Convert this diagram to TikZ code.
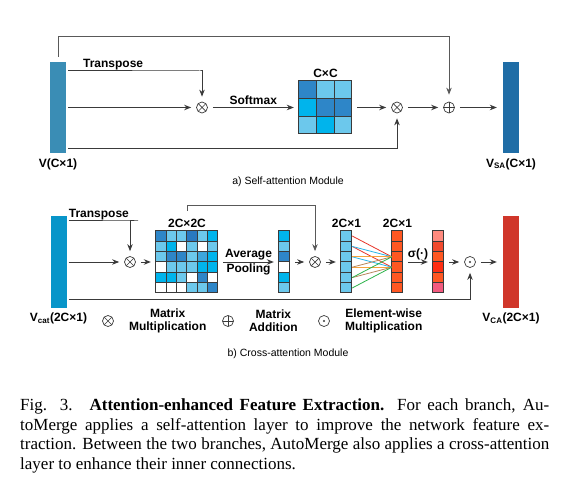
\documentclass[tikz,border=0pt]{standalone}
\usepackage{fontspec}
\setmainfont{Liberation Serif}
\newfontfamily\figfont{Liberation Sans}
\usetikzlibrary{positioning,calc,arrows.meta}

\definecolor{cdark}{HTML}{2E86C8}
\definecolor{cdeep}{HTML}{2878C0}
\definecolor{clight}{HTML}{6CC8EC}
\definecolor{ccyan}{HTML}{00B4EC}
\definecolor{cmid}{HTML}{3DA6DC}
\definecolor{corange}{HTML}{FF5722}
\definecolor{csalmon}{HTML}{FF8A7E}
\definecolor{cred}{HTML}{F24A2E}
\definecolor{cscarlet}{HTML}{FF2E12}
\definecolor{cpink}{HTML}{F25A7E}
\definecolor{barv}{HTML}{3A8DB5}
\definecolor{barsa}{HTML}{1F6DA6}
\definecolor{barcat}{HTML}{0895C9}
\definecolor{barca}{HTML}{D0362A}
\definecolor{fanred}{HTML}{E8352A}
\definecolor{fanblue}{HTML}{29B5E8}
\definecolor{fanorange}{HTML}{F5A33C}
\definecolor{fanbrown}{HTML}{B8865A}
\definecolor{fangreen}{HTML}{2DB34A}
\definecolor{linegray}{HTML}{3A3A3A}

\begin{document}
\begin{tikzpicture}
   [x=1pt,y=-1pt,
    bar/.style={rectangle, minimum width=16pt, minimum height=91pt, inner sep=0pt},
    op/.style={circle, draw=linegray, line width=0.7pt, minimum size=11pt, inner sep=0pt},
    mult/.style={op, path picture={\draw[linegray,line width=0.7pt]
        (path picture bounding box.north west) -- (path picture bounding box.south east)
        (path picture bounding box.north east) -- (path picture bounding box.south west);}},
    add/.style={op, path picture={\draw[linegray,line width=0.7pt]
        (path picture bounding box.north) -- (path picture bounding box.south)
        (path picture bounding box.west) -- (path picture bounding box.east);}},
    hada/.style={op, path picture={\fill[linegray] (path picture bounding box.center) circle (1.1pt);}},
    cell/.style={draw=linegray, line width=0.8pt},
    vec/.style={rectangle, minimum width=11pt, minimum height=62pt, inner sep=0pt},
    arr/.style={draw=linegray, line width=1pt, -{Stealth[length=7pt,width=5.5pt]},
        shorten >=5pt, shorten <=5pt},
    lbl/.style={font=\figfont\bfseries\fontsize{12}{13}\selectfont, inner sep=1pt, align=center},
    sub/.style={font=\figfont\fontsize{10.5}{12}\selectfont, inner sep=0pt}]

\fill[white] (0,0) rectangle (567,478);
\useasboundingbox (0,0) rectangle (567,478);

% a) self-attention
\node [bar, fill=barv] (v) at (58,107.5) {};
\node [lbl, below=4pt of v] (vlbl) {V(C×1)};
\node [mult] (m1) at (202,107.5) {};
\node [rectangle, minimum size=53pt, inner sep=0pt] (cc) at (325.5,107.5) {};
\foreach \c [count=\i from 0] in {cdark,clight,clight, ccyan,cdark,cdark, clight,ccyan,clight}
{
  \pgfmathtruncatemacro{\r}{\i/3}
  \pgfmathtruncatemacro{\k}{mod(\i,3)}
  \draw [cell, fill=\c] ($(cc.north west)+(\k*17.667,\r*17.667)$) rectangle ++(17.667,17.667);
}
\node [lbl, above=2pt of cc] (cclbl) {C×C};
\node [mult] (m2) at (397,107.5) {};
\node [add] (a1) at (449,107.5) {};
\node [bar, fill=barsa] (vsa) at (511,107.5) {};
\node [lbl, below=4pt of vsa] (vsalbl) {V\textsubscript{SA}(C×1)};
\coordinate (skipA) at (449,36);

\draw [arr, shorten <=2pt] ([yshift=36.5pt]v.east) -- node [lbl, above, pos=0.35] {Transpose} ++(134,0) -| (m1);
\draw [arr, shorten <=2pt] (v.east) -- (m1);
\draw [arr] (m1) -- node [lbl, above=1pt] {Softmax} (cc);
\draw [arr] (cc) -- (m2);
\draw [arr, shorten <=2pt] ([yshift=-41.5pt]v.east) -| (m2);
\draw [arr] (m2) -- (a1);
\draw [arr, line width=0.9pt, draw=black!65, shorten >=7pt] (v.north) |- (skipA) -- (a1);
\draw [arr, shorten >=6pt] (a1) -- (vsa);
\node [sub] (capa) at (288,182) {a) Self-attention Module};

% b) cross-attention
\node [bar, fill=barcat] (vcat) at (58.5,262) {};
\node [lbl, below=4pt of vcat] (vcatlbl) {V\textsubscript{cat}(2C×1)};
\node [mult] (m3) at (130,262) {};
\node [rectangle, minimum size=62pt, inner sep=0pt] (mm) at (187,262) {};
\foreach \c [count=\i from 0] in {cdark,clight,clight,cdeep,clight,ccyan,
                                  clight,ccyan,white,clight,white,clight,
                                  clight,cdark,cdark,clight,cmid,ccyan,
                                  white,clight,clight,clight,ccyan,ccyan,
                                  ccyan,ccyan,clight,white,cdark,white,
                                  white,white,white,clight,clight,cdark}
{
  \pgfmathtruncatemacro{\r}{\i/6}
  \pgfmathtruncatemacro{\k}{mod(\i,6)}
  \draw [cell, fill=\c] ($(mm.north west)+(\k*10.333,\r*10.333)$) rectangle ++(10.333,10.333);
}
\node [lbl, above=2pt of mm] (mmlbl) {2C×2C};
\node [vec] (pv) at (284.5,262) {};
\node [mult] (m4) at (315,262) {};
\node [vec] (va) at (346.5,262) {};
\node [lbl, above=2pt of va] (valbl) {2C×1};
\node [vec] (vb) at (397.5,262) {};
\node [lbl, above=2pt of vb] (vblbl) {2C×1};
\node [vec] (vc) at (438.5,262) {};
\foreach \n/\cols in {pv/{ccyan,clight,cdark,white,ccyan,clight},
                      va/{clight,clight,clight,clight,clight,clight},
                      vb/{corange,corange,corange,corange,corange,corange},
                      vc/{csalmon,cred,corange,cscarlet,corange,cpink}}
  \foreach \c [count=\i from 0] in \cols
    \draw [cell, fill=\c] ($(\n.north west)+(0,\i*10.333)$) rectangle ++(11,10.333);
\node [hada] (m5) at (470,262) {};
\node [bar, fill=barca] (vca) at (511,262) {};
\node [lbl, below=4pt of vca] (vcalbl) {V\textsubscript{CA}(2C×1)};
\coordinate (mmtop) at (187,211);
\coordinate (skipB) at (315,205);

% fully connected fan
\foreach \a/\b/\c in {1/3/fanred, 2/4/fanred, 2/3/fanblue, 3/4/fanblue,
                      3/3/fanorange, 4/4/fanorange, 4/3/fanbrown, 5/4/fanbrown,
                      5/3/fangreen, 6/4/fangreen}
{
  \pgfmathsetmacro{\fa}{(\a-0.5)/6}
  \pgfmathsetmacro{\fb}{(\b-0.5)/6}
  \draw [draw=\c, line width=0.8pt] ($(va.north east)!\fa!(va.south east)$) -- ($(vb.north west)!\fb!(vb.south west)$);
}

\draw [arr, shorten <=2pt] ([yshift=41pt]vcat.east) -- node [lbl, above, pos=0.45] {Transpose} ++(71.5,0) -| (m3);
\draw [arr, shorten <=2pt] (vcat.east) -- (m3);
\draw [arr] (m3) -- (mm);
\draw [arr] (mm) -- node [lbl, above=0.5pt] {Average} node [lbl, below=0.5pt] {Pooling} (pv);
\draw [arr] (pv) -- (m4);
\draw [arr, line width=0.9pt, draw=black!65, shorten <=0pt] (mmtop) |- (skipB) -- (m4);
\draw [arr] (m4) -- (va);
\draw [arr] (vb) -- node [lbl, above=1pt] {σ(·)} (vc);
\draw [arr] (vc) -- (m5);
\draw [arr, shorten <=2pt] ([yshift=-37pt]vcat.east) -| (m5);
\draw [arr, shorten >=6pt] (m5) -- (vca);

% legend
\node [mult] (lm) at (108,321) {};
\node [lbl, right=14pt of lm] (lmtxt) {Matrix\\Multiplication};
\node [add] (la) at (228,321) {};
\node [lbl, right=14pt of la] (latxt) {Matrix\\Addition};
\node [hada] (lh) at (324,321) {};
\node [lbl, right=14pt of lh] (lhtxt) {Element-wise\\Multiplication};
\node [sub] (capb) at (288,354) {b) Cross-attention Module};

% figure caption
\node [anchor=north west, inner sep=0pt, text width=529pt, align=justify,
       font=\fontsize{17}{19.7}\selectfont] (cap) at (20,398.5)
  {Fig. 3.\hspace{0.25em} \textbf{Attention-enhanced Feature Extraction.} For each branch, Au-\linebreak
   toMerge applies a self-attention layer to improve the network feature ex-\linebreak
   traction. Between the two branches, AutoMerge also applies a cross-attention\linebreak
   layer to enhance their inner connections.};
\end{tikzpicture}
\end{document}
